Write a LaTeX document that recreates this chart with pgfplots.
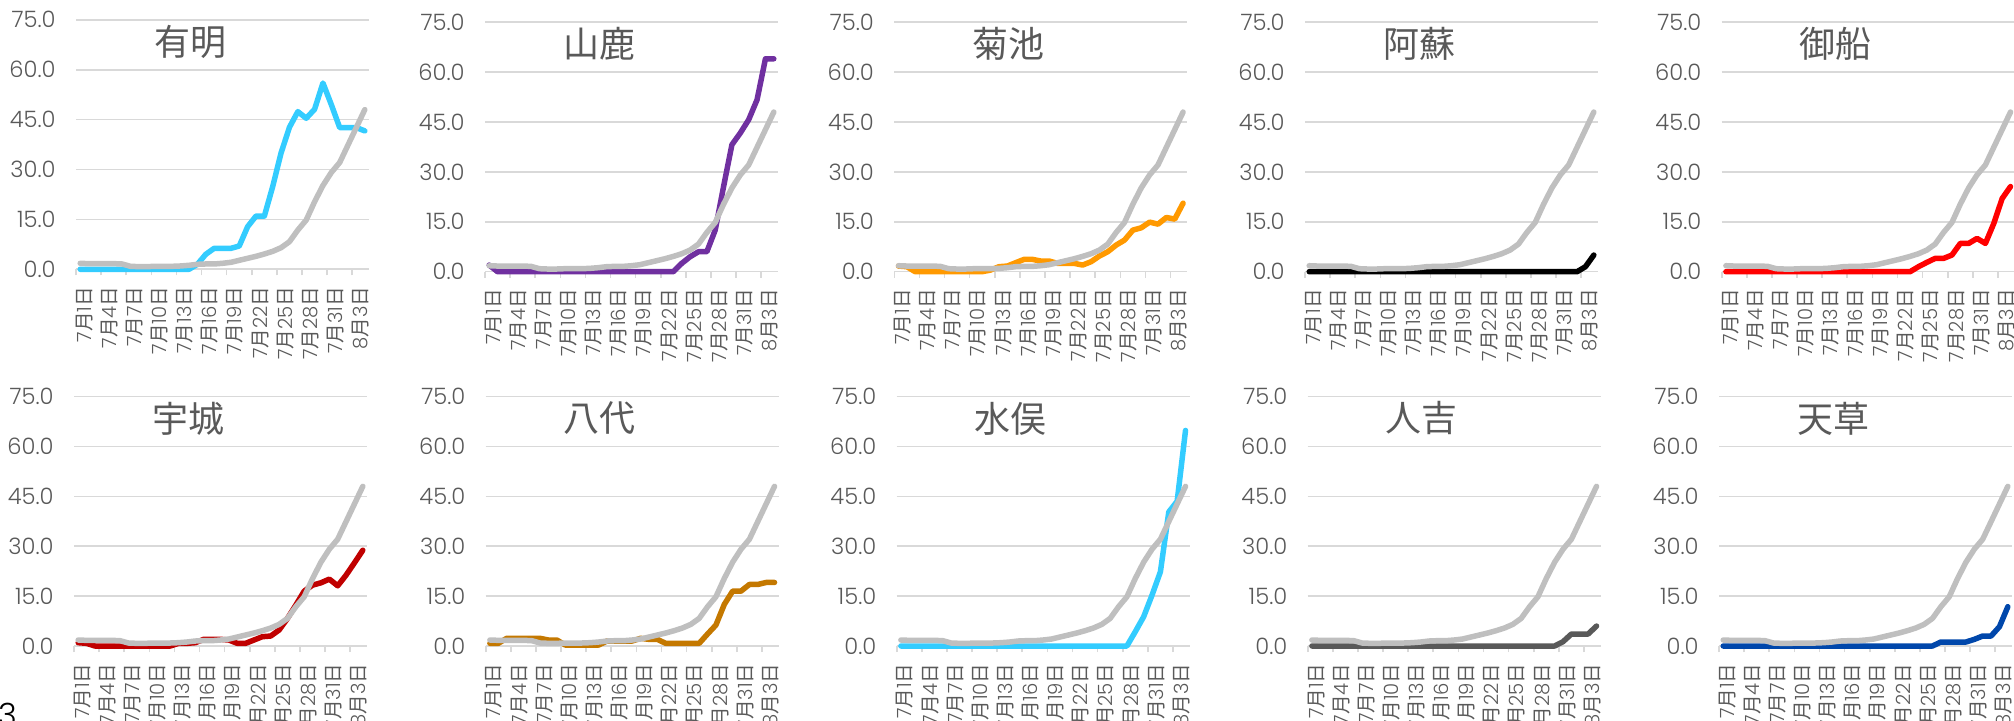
\documentclass[border=0pt]{standalone}
\usepackage{fontspec}
\setmainfont{Poppins}[UprightFont=* Light]
\newfontfamily\cjk{Noto Sans CJK JP}
\usepackage{pgfplots}
\usepackage{pgfplotstable}
\pgfplotsset{compat=1.18}

\definecolor{txt}{RGB}{89,89,89}
\definecolor{gridc}{RGB}{217,217,217}
\definecolor{lgray}{RGB}{191,191,191}
\definecolor{cAriake}{RGB}{51,204,255}
\definecolor{cYamaga}{RGB}{112,48,160}
\definecolor{cKikuchi}{RGB}{255,153,0}
\definecolor{cAso}{RGB}{0,0,0}
\definecolor{cMifune}{RGB}{255,0,0}
\definecolor{cUki}{RGB}{192,0,0}
\definecolor{cYatsushiro}{RGB}{196,120,0}
\definecolor{cMinamata}{RGB}{51,204,255}
\definecolor{cHitoyoshi}{RGB}{89,89,89}
\definecolor{cAmakusa}{RGB}{0,71,171}

% day 1 = 7/1 ... day 35 = 8/4
\pgfplotstableread{
day gray ariake yamaga kikuchi aso mifune uki yatsushiro minamata hitoyoshi amakusa
1  1.8  0    2.0  1.7  0   0    1.0  0.8  0    0   0
2  1.7  0    0    1.5  0   0    0.8  0.8  0    0   0
3  1.7  0    0    0    0   0    0    2.3  0    0   0
4  1.7  0    0    0    0   0    0    2.3  0    0   0
5  1.7  0    0    0    0   0    0    2.3  0    0   0
6  1.6  0    0    0    0   0    0    2.3  0    0   0
7  0.9  0    0    0    0   0    0    2.3  0    0   0
8  0.8  0    0    0    0   0    0    1.8  0    0   0
9  0.8  0    0    0    0   0    0    1.8  0    0   0
10 0.9  0    0    0    0   0    0    0.3  0    0   0
11 0.9  0    0    0    0   0    0    0.3  0    0   0
12 0.9  0    0    0.5  0   0    0    0.3  0    0   0
13 1.0  0    0    1.5  0   0    0.8  0.3  0    0   0
14 1.2  0    0    1.7  0   0    0.8  0.3  0    0   0
15 1.5  1.5  0    2.7  0   0    1.0  1.5  0    0   0
16 1.6  4.5  0    3.7  0   0    2.0  1.5  0    0   0
17 1.6  6.3  0    3.7  0   0    2.0  1.5  0    0   0
18 1.8  6.3  0    3.2  0   0    2.0  1.5  0    0   0
19 2.1  6.3  0    3.2  0   0    1.8  2.3  0    0   0
20 2.7  7.0  0    2.5  0   0    0.8  2.0  0    0   0
21 3.3  12.8 0    2.5  0   0    0.8  2.0  0    0   0
22 3.9  16.0 0    2.5  0   0    1.8  0.8  0    0   0
23 4.6  16.0 0    2.0  0   0    2.8  0.8  0    0   0
24 5.4  24.9 2.5  3.0  0   1.5  3.0  0.8  0    0   0
25 6.5  35.0 4.5  4.7  0   2.8  4.8  0.8  0    0   0
26 8.3  42.7 6.0  6.0  0   4.0  8.3  0.8  0    0   0
27 11.8 47.4 6.0  8.0  0   4.0  12.3 3.6  0    0   1.2
28 14.8 45.4 12.5 9.5  0   5.0  16.5 6.3  0    0   1.2
29 20.3 48.1 25.6 12.5 0   8.5  18.3 12.5 4.3  0   1.2
30 25.2 56.0 38.2 13.2 0   8.5  19.0 16.5 8.8  0   1.2
31 29.1 49.5 41.7 14.9 0   10.0 20.1 16.5 15.3 1.3 2.0
32 32.1 42.6 45.7 14.3 0   8.5  18.1 18.5 22.3 3.6 3.0
33 37.4 42.6 51.7 16.3 0   14.5 21.3 18.5 40.3 3.6 3.0
34 42.7 42.6 64.0 15.8 1.5 22.0 25.0 19.1 43.5 3.6 5.8
35 48.0 41.6 64.0 20.6 5.0 25.6 28.8 19.1 64.8 6.0 11.8
}\regions

\newcommand\md[2]{#1{\cjk 月}#2{\cjk 日}}

\pgfplotsset{
  panel/.style={
    scale only axis, width=146.5pt, height=124.75pt, anchor=south west,
    xmin=0.5, xmax=35.5, ymin=0, ymax=75, clip=false,
    axis lines*=left,
    y axis line style={draw=none},
    x axis line style={draw=gridc, line width=0.8pt},
    ytick={0,15,30,45,60,75},
    yticklabels={0.0,15.0,30.0,45.0,60.0,75.0},
    ymajorgrids, major grid style={draw=gridc, line width=0.8pt},
    major tick length=0pt,
    xtick={1.5,4.5,7.5,10.5,13.5,16.5,19.5,22.5,25.5,28.5,31.5,34.5},
    xticklabels={\md71,\md74,\md77,\md7{10},\md7{13},\md7{16},\md7{19},
      \md7{22},\md7{25},\md7{28},\md7{31},\md83},
    extra x ticks={0.5,3.5,6.5,9.5,12.5,15.5,18.5,21.5,24.5,27.5,30.5,33.5},
    extra x tick labels={},
    extra x tick style={major tick length=3pt, tick align=outside,
      xtick style={draw=gridc, line width=0.8pt}},
    tick label style={text=txt, inner sep=0pt},
    yticklabel style={anchor=east, font=\fontsize{11.3pt}{11.3pt}\selectfont},
    xticklabel style={rotate=90, anchor=east, font=\fontsize{9.8pt}{9.8pt}\selectfont},
    yticklabel shift=10pt, xticklabel shift=8.5pt,
  },
  ser/.style={line width=2.75pt, line join=round, line cap=round},
}
\tikzset{ptitle/.style={font=\cjk\fontsize{18pt}{18pt}\selectfont, text=txt, inner sep=0pt}}

% #1 left (px), #2 bottom (px), #3 name, #4 colour, #5 column
\newcommand\panel[5]{%
  \begin{axis}[panel, at={(#1*0.5pt,-#2*0.5pt)}]
    \addplot[ser, #4] table[x=day, y=#5] \regions;
    \addplot[ser, lgray] table[x=day, y=gray] \regions;
    \node[ptitle] at (rel axis cs:0.39,0.912) {#3};
  \end{axis}}

\begin{document}
\begin{tikzpicture}
\useasboundingbox (0,0) rectangle (1007pt,-360.5pt);
\panel{76}{269.3}{有明}{cAriake}{ariake}
\panel{485}{271.7}{山鹿}{cYamaga}{yamaga}
\panel{894.3}{271.7}{菊池}{cKikuchi}{kikuchi}
\panel{1305}{271.7}{阿蘇}{cAso}{aso}
\panel{1721.7}{271.7}{御船}{cMifune}{mifune}
\panel{74}{646}{宇城}{cUki}{uki}
\panel{485.7}{646}{八代}{cYatsushiro}{yatsushiro}
\panel{896.7}{646}{水俣}{cMinamata}{minamata}
\panel{1307.7}{646}{人吉}{cHitoyoshi}{hitoyoshi}
\panel{1719}{646}{天草}{cAmakusa}{amakusa}
\node[anchor=north west, inner sep=0pt, font=\fontsize{16pt}{16pt}\selectfont] at (-1pt,-351.5pt) {3};
\end{tikzpicture}
\end{document}
